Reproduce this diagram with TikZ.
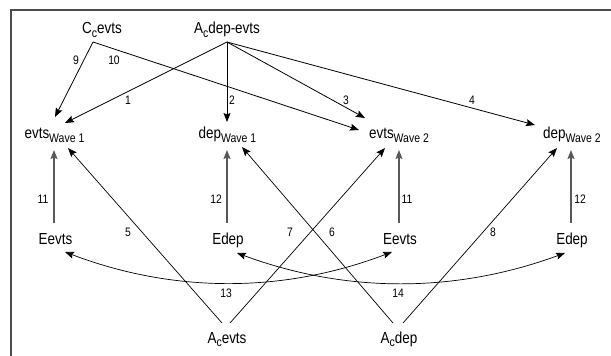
\documentclass[tikz,border=0pt]{standalone}
\usepackage{fontspec}
\setmainfont{Liberation Sans}[FakeStretch=0.84]
\usetikzlibrary{arrows.meta,calc}
\newcommand\lowsub[1]{\raisebox{-3.5pt}{\fontsize{12.5}{13}\selectfont #1}}
\tikzset{
  lbl/.style={font=\fontsize{16}{17}\selectfont, inner sep=0pt, anchor=base},
  num/.style={font=\fontsize{12.3}{13}\selectfont, inner sep=0pt},
  arr/.style={-{Stealth[length=9pt,width=7pt,inset=1.5pt]}, line width=0.8pt, black},
  varr/.style={-{Stealth[length=9pt,width=7pt,inset=1.5pt]}, line width=1.2pt, black!65},
  darr/.style={{Stealth[length=9pt,width=7pt,inset=1.5pt]}-{Stealth[length=9pt,width=7pt,inset=1.5pt]}, line width=0.7pt, black},
  frameline/.style={line width=1.6pt, black!70}
}
\begin{document}
\begin{tikzpicture}[x=1pt,y=-1pt]
\useasboundingbox (0,0) rectangle (611,356);
\fill[white] (0,0) rectangle (611,356);
\draw[frameline] (11,356) -- (11,10) -- (611,10);

% nodes
\node[lbl] (cc)  at (102,34) {C\lowsub{c}evts};
\node[lbl] (ade) at (227,34) {A\lowsub{c}dep-evts};
\node[lbl] (ew1) at (54.5,138.5) {evts\lowsub{Wave 1}};
\node[lbl] (dw1) at (227.5,138.5) {dep\lowsub{Wave 1}};
\node[lbl] (ew2) at (399,138.5) {evts\lowsub{Wave 2}};
\node[lbl] (dw2) at (572,138.5) {dep\lowsub{Wave 2}};
\node[lbl] (ee1) at (55.5,244) {Eevts};
\node[lbl] (ed1) at (228,244) {Edep};
\node[lbl] (ee2) at (400,244) {Eevts};
\node[lbl] (ed2) at (572,244) {Edep};
\node[lbl] (ace) at (227,343) {A\lowsub{c}evts};
\node[lbl] (acd) at (399,343) {A\lowsub{c}dep};

% top arrows
\draw[arr] ($(cc.base)+(-9,8)$) -- ($(ew1.base)+(0.5,-21.5)$);
\draw[arr] ($(cc.base)+(-9,8)$) -- ($(ew2.base)+(-40,-8.5)$);
\draw[arr] ($(ade.base)+(0,8)$) -- ($(ew1.base)+(10.5,-15.5)$);
\draw[arr] ($(ade.base)+(0,8)$) -- ($(dw1.base)+(-0.5,-16.5)$);
\draw[arr] ($(ade.base)+(0,8)$) -- ($(ew2.base)+(-34,-20.5)$);
\draw[arr] ($(ade.base)+(0,8)$) -- ($(dw2.base)+(-37,-13.5)$);

% vertical arrows
\draw[varr] ($(ee1.base)+(-1.5,-21)$) -- ($(ew1.base)+(-0.5,11.5)$);
\draw[varr] ($(ed1.base)+(-1,-21)$) -- ($(dw1.base)+(-0.5,11.5)$);
\draw[varr] ($(ee2.base)+(-1,-21)$) -- ($(ew2.base)+(0,11.5)$);
\draw[varr] ($(ed2.base)+(-1,-21)$) -- ($(dw2.base)+(-1,11.5)$);

% bottom diagonal arrows
\draw[arr,line width=0.7pt] ($(ace.base)+(-5,-20)$) -- ($(ew1.base)+(13.5,9.5)$);
\draw[arr,line width=0.7pt] ($(ace.base)+(3,-20)$) -- ($(ew2.base)+(-14,9.5)$);
\draw[arr,line width=0.7pt] ($(acd.base)+(-6,-20)$) -- ($(dw1.base)+(14.5,8.5)$);
\draw[arr,line width=0.7pt] ($(acd.base)+(4,-20)$) -- ($(dw2.base)+(-15,9.5)$);

% curved double arrows
\draw[darr] ($(ee1.base)+(9.5,8)$) .. controls (174,293.3) and (283,293.3) .. ($(ee2.base)+(-8,8)$);
\draw[darr] ($(ed1.base)+(9,9)$) .. controls (346,293.3) and (455,293.3) .. ($(ed2.base)+(-7,9)$);

% labels
\node[num] (n9)  at (76,60) {9};
\node[num] (n10) at (114,60) {10};
\node[num] (n1)  at (128,100) {1};
\node[num] (n2)  at (232,100) {2};
\node[num] (n3)  at (346,100) {3};
\node[num] (n4)  at (472,100) {4};
\node[num] (n11a) at (43,199) {11};
\node[num] (n12a) at (216,199) {12};
\node[num] (n11b) at (407,199) {11};
\node[num] (n12b) at (580,199) {12};
\node[num] (n5)  at (128,232) {5};
\node[num] (n7)  at (290,232) {7};
\node[num] (n6)  at (332,232) {6};
\node[num] (n8)  at (493,232) {8};
\node[num] (n13) at (226,293) {13};
\node[num] (n14) at (398,293) {14};
\end{tikzpicture}
\end{document}
